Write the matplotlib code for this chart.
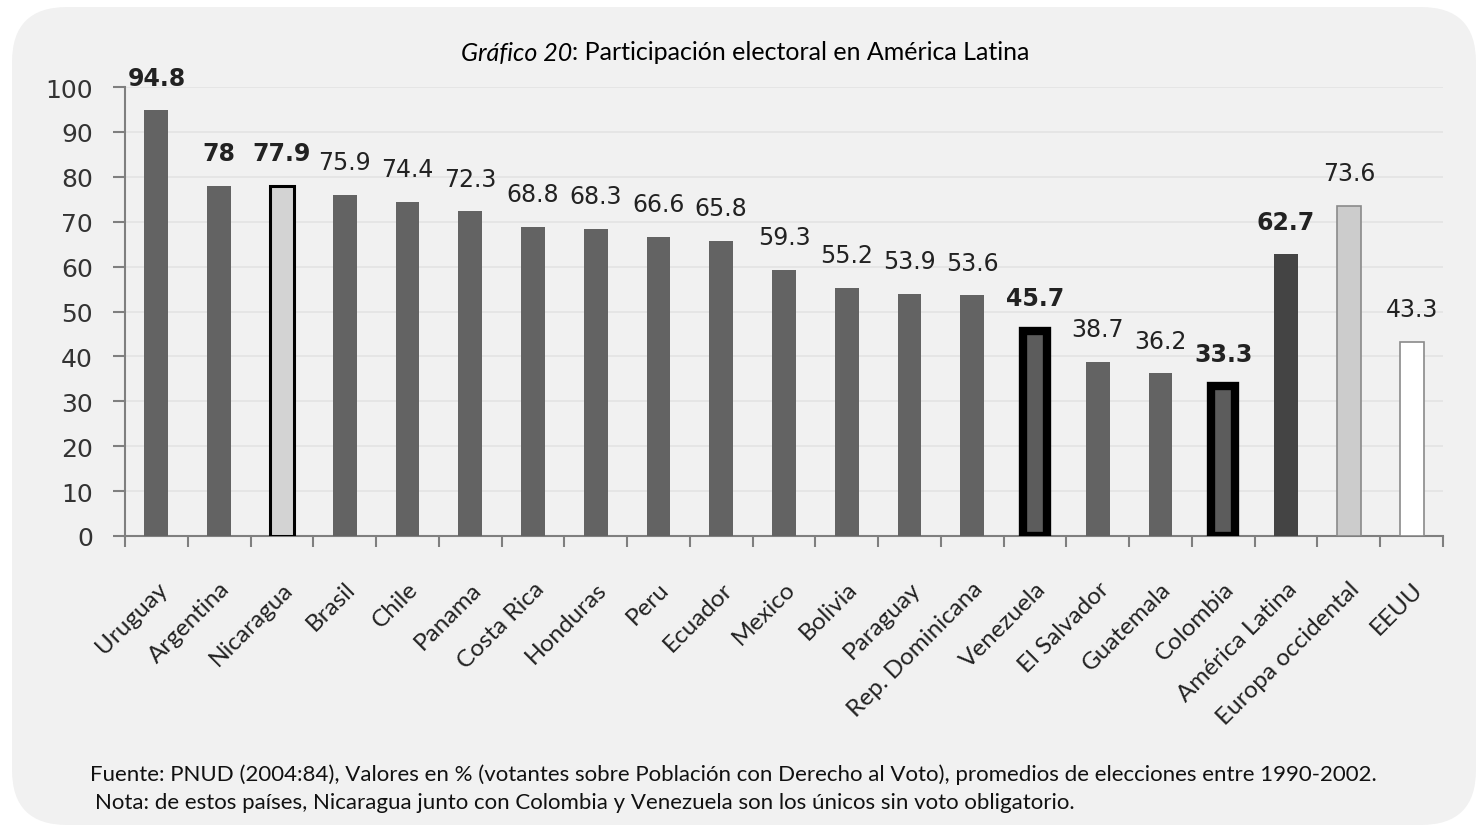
import matplotlib
matplotlib.use('Agg')
import matplotlib.pyplot as plt
from matplotlib.patches import FancyBboxPatch

# Data
countries = ['Uruguay', 'Argentina', 'Nicaragua', 'Brasil', 'Chile', 'Panama',
             'Costa Rica', 'Honduras', 'Peru', 'Ecuador', 'Mexico', 'Bolivia',
             'Paraguay', 'Rep. Dominicana', 'Venezuela', 'El Salvador',
             'Guatemala', 'Colombia', 'América Latina', 'Europa occidental', 'EEUU']
values = [94.8, 78, 77.9, 75.9, 74.4, 72.3, 68.8, 68.3, 66.6, 65.8, 59.3, 55.2,
          53.9, 53.6, 45.7, 38.7, 36.2, 33.3, 62.7, 73.6, 43.3]
label_texts = ['94.8', '78', '77.9', '75.9', '74.4', '72.3', '68.8', '68.3', '66.6',
               '65.8', '59.3', '55.2', '53.9', '53.6', '45.7', '38.7', '36.2', '33.3',
               '62.7', '73.6', '43.3']
bold_labels = ['Uruguay', 'Argentina', 'Nicaragua', 'Venezuela', 'Colombia', 'América Latina']
yticks = [0, 10, 20, 30, 40, 50, 60, 70, 80, 90, 100]

# styles per bar
face = []
edge = []
lw = []
for c in countries:
    if c == 'Nicaragua':
        face.append('#d3d3d3'); edge.append('#000000'); lw.append(2.2)
    elif c in ('Venezuela', 'Colombia'):
        face.append('#5c5c5c'); edge.append('#000000'); lw.append(6)
    elif c == 'América Latina':
        face.append('#444444'); edge.append('#444444'); lw.append(0)
    elif c == 'Europa occidental':
        face.append('#cccccc'); edge.append('#8a8a8a'); lw.append(1.2)
    elif c == 'EEUU':
        face.append('#ffffff'); edge.append('#8a8a8a'); lw.append(1.2)
    else:
        face.append('#636363'); edge.append('#636363'); lw.append(0)

W, H = 1478, 828
fig = plt.figure(figsize=(W / 100, H / 100), dpi=100)
fig.patch.set_facecolor('white')

# rounded light grey panel behind everything
bg = fig.add_axes([0, 0, 1, 1], zorder=-10)
bg.set_xlim(0, W)
bg.set_ylim(H, 0)
bg.axis('off')
bg.add_patch(FancyBboxPatch((12, 8), W - 14, H - 10,
                            boxstyle='round,pad=0,rounding_size=55',
                            facecolor='#f1f1f1', edgecolor='none'))

n = len(countries)
ax = fig.add_axes([125 / W, 1 - 537 / H, (1443 - 125) / W, (537 - 88) / H])
ax.set_facecolor('none')
x = list(range(n))
ax.bar(x, values, width=0.38, color=face, edgecolor=edge, linewidth=lw, zorder=3)

for i, (v, t) in enumerate(zip(values, label_texts)):
    ax.annotate(t, (i, v), xytext=(0, 15), textcoords='offset points',
                ha='center', va='bottom', fontsize=17, color='#222222',
                fontweight='bold' if countries[i] in bold_labels else 'normal',
                family='DejaVu Sans')

ax.set_xlim(-0.5, n - 0.5)
ax.set_ylim(0, 100)
ax.set_yticks(yticks)
ax.set_yticklabels([str(v) for v in yticks], fontsize=18, color='#333333')
ax.tick_params(axis='y', length=9, width=1.5, color='#7f7f7f', pad=14)
ax.grid(axis='y', color='#e3e3e3', linewidth=1.2, zorder=0)

ax.set_xticks(x)
ax.set_xticklabels(countries, rotation=45, ha='right', rotation_mode='anchor',
                   fontsize=17.5, family='Lato', color='#222222')
ax.set_xticks([i - 0.5 for i in range(n + 1)], minor=True)
ax.tick_params(axis='x', which='major', length=0, pad=30)
ax.tick_params(axis='x', which='minor', length=8, width=1.5, color='#7f7f7f')

for s in ['top', 'right']:
    ax.spines[s].set_visible(False)
for s in ['left', 'bottom']:
    ax.spines[s].set_color('#7f7f7f')
    ax.spines[s].set_linewidth(1.5)

# title: italic part + regular part, centred together
renderer = fig.canvas.get_renderer()
t1 = fig.text(0, 1 - 53 / H, 'Gráfico 20', style='italic', fontsize=18,
              family='Lato', va='center', ha='left')
t2 = fig.text(0, 1 - 53 / H, ': Participación electoral en América Latina',
              fontsize=18, family='Lato', va='center', ha='left')
w1 = t1.get_window_extent(renderer).width
w2 = t2.get_window_extent(renderer).width
start = 745 - (w1 + w2) / 2
t1.set_x(start / W)
t2.set_x((start + w1) / W)

fig.text(90 / W, 1 - 775 / H,
         'Fuente: PNUD (2004:84), Valores en % (votantes sobre Población con Derecho al Voto), '
         'promedios de elecciones entre 1990-2002.',
         fontsize=16, family='Lato', va='center', color='#111111')
fig.text(95 / W, 1 - 803 / H,
         'Nota: de estos países, Nicaragua junto con Colombia y Venezuela son los únicos sin voto obligatorio.',
         fontsize=16, family='Lato', va='center', color='#111111')

fig.savefig('out.png', dpi=100)
